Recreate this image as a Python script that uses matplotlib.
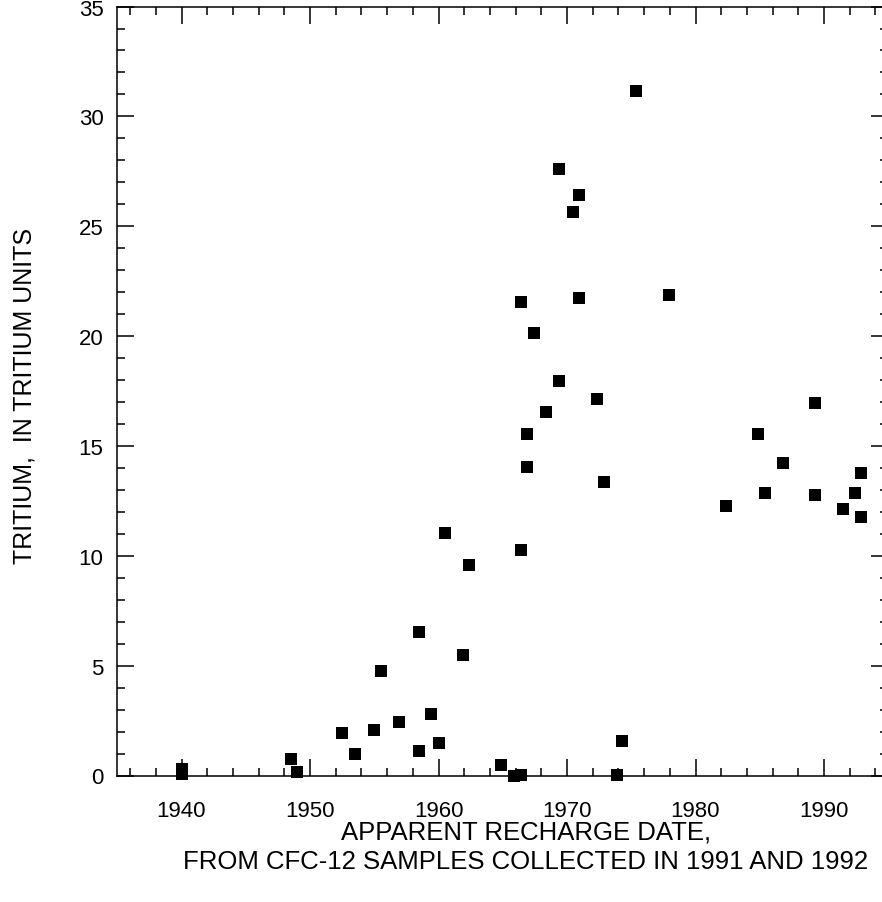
import matplotlib
matplotlib.use("Agg")
import matplotlib.pyplot as plt
from matplotlib.ticker import MultipleLocator

plt.rcParams['font.family'] = ['Liberation Sans', 'DejaVu Sans']

# apparent recharge date (CFC-12) and tritium
recharge_year = [1940.0, 1940.0, 1948.5, 1949.0, 1952.5, 1953.5, 1955.0, 1955.5,
                 1956.9, 1958.5, 1958.5, 1959.4, 1960.0, 1960.5, 1961.9, 1962.4,
                 1964.9, 1965.9, 1966.4, 1966.4, 1966.4, 1966.9, 1966.9, 1967.4,
                 1968.4, 1969.4, 1969.4, 1970.5, 1970.9, 1970.9, 1972.3, 1972.9,
                 1973.9, 1974.3, 1975.4, 1977.9, 1982.4, 1984.9, 1985.4, 1986.8,
                 1989.3, 1989.3, 1991.5, 1992.4, 1992.9, 1992.9]
tritium_tu = [0.3, 0.05, 0.76, 0.17, 1.94, 0.99, 2.08, 4.77,
              2.44, 6.54, 1.12, 2.81, 1.49, 11.05, 5.49, 9.59,
              0.49, 0.0, 0.03, 10.27, 21.57, 15.55, 14.05, 20.15,
              16.55, 17.97, 27.61, 25.66, 26.43, 21.74, 17.14, 13.36,
              0.03, 1.58, 31.16, 21.87, 12.28, 15.55, 12.87, 14.23,
              16.96, 12.78, 12.14, 12.87, 13.78, 11.78]

xlabel_lines = ["APPARENT RECHARGE DATE,",
                "FROM CFC-12 SAMPLES COLLECTED IN 1991 AND 1992"]
ylabel = "TRITIUM,  IN TRITIUM UNITS"

W, H = 882, 903
fig = plt.figure(figsize=(W / 100, H / 100), dpi=100)
# axes in pixel terms: x 1935..1995 -> 117.25..888.25, y 0..35 -> 776.5..7.55
ax = fig.add_axes([117.25 / W, (H - 776.5) / H, 771 / W, 768.95 / H])

ax.plot(recharge_year, tritium_tu, 's', color='black', markersize=8.4,
        markeredgewidth=0, clip_on=False, zorder=3)

ax.set_xlim(1935, 1995)
ax.set_ylim(0, 35)
ax.xaxis.set_major_locator(MultipleLocator(10))
ax.xaxis.set_minor_locator(MultipleLocator(2))
ax.yaxis.set_major_locator(MultipleLocator(5))
ax.yaxis.set_minor_locator(MultipleLocator(1))

ax.tick_params(which='both', direction='in', top=True, right=True,
               width=1.1, color='black', labelsize=16)
ax.tick_params(which='major', length=12)
ax.tick_params(which='minor', length=5.8)
ax.tick_params(axis='x', which='major', pad=18)
ax.tick_params(axis='y', which='major', pad=10)
for s in ax.spines.values():
    s.set_linewidth(1.1)

fig.text(526 / W, 1 - 833 / H, xlabel_lines[0], ha='center', va='center', fontsize=18.5)
fig.text(526 / W, 1 - 862 / H, xlabel_lines[1], ha='center', va='center', fontsize=18.5)
fig.text(25 / W, 1 - 396 / H, ylabel, rotation=90, ha='center', va='center', fontsize=18)

fig.savefig("out.png", dpi=100)
